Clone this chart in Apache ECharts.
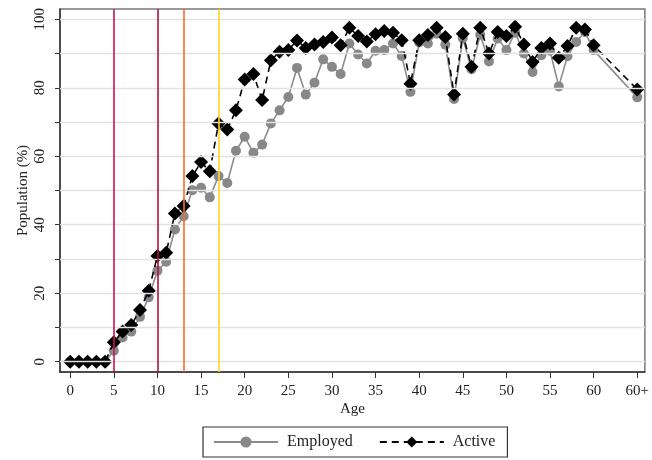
<!DOCTYPE html>
<html>
<head>
<meta charset="utf-8">
<script src="https://cdn.jsdelivr.net/npm/echarts@6/dist/echarts.min.js"></script>
<style>
html,body{margin:0;padding:0;background:#fff;}
#chart{width:652px;height:460px;}
</style>
</head>
<body>
<div id="chart"></div>
<script>
const ages = [0,1,2,3,4,5,6,7,8,9,10,11,12,13,14,15,16,17,18,19,20,21,22,23,24,25,26,27,28,29,30,31,32,33,34,35,36,37,38,39,40,41,42,43,44,45,46,47,48,49,50,51,52,53,54,55,56,57,58,59,60,65];
const employed = [0,0,0,0,0,3.2,7.1,8.8,13.1,18.8,26.6,29.2,38.6,42.5,50.1,50.8,48.0,54.2,52.2,61.6,65.7,61.0,63.4,69.6,73.4,77.3,85.8,78.0,81.5,88.3,86.1,84.0,92.9,89.7,87.1,90.8,91.0,92.9,89.3,78.8,93.2,92.9,95.8,92.6,76.7,94.5,85.4,95.5,87.7,94.4,91.0,96.1,90.0,84.6,89.5,90.8,80.4,89.2,93.4,96.3,91.0,77.2];
const active = [0,0,0,0,0,5.7,8.8,10.7,15.1,20.7,30.9,31.8,43.3,45.5,54.2,58.3,55.6,69.6,67.8,73.4,82.4,84.0,76.4,88.0,90.5,91.0,93.8,91.6,92.6,93.4,94.7,92.4,97.5,95.1,93.5,95.6,96.6,96.1,93.9,81.2,93.9,95.4,97.5,94.8,78.0,95.8,86.1,97.5,90.0,96.3,95.1,97.8,92.6,87.5,91.6,92.9,88.8,92.2,97.5,97.0,92.4,79.5];
const xTicks = [0,5,10,15,20,25,30,35,40,45,50,55,60,65];
const xTickLabels = ['0','5','10','15','20','25','30','35','40','45','50','55','60','60+'];
const yLabelValues = [0,20,40,60,80,100];
const yTickValues = [0,10,20,30,40,50,60,70,80,90,100];
const refAges = [5,10,13,17];
const refColors = ['#c8154a','#b8103e','#ff6a2c','#ffd424'];

const font = 'Liberation Serif';
const chart = echarts.init(document.getElementById('chart'));
const pair = (arr) => ages.map((a,i)=>[a, arr[i]]);

chart.setOption({
  animation:false,
  textStyle:{fontFamily:font},
  grid:{left:60,right:4,top:9,bottom:88,show:true,borderColor:'#7a7a7a',borderWidth:1.5,backgroundColor:'#fff'},
  xAxis:{
    type:'value', min:-1.17, max:65.87,
    name:'Age', nameLocation:'middle', nameGap:30, nameMoveOverlap:false,
    nameTextStyle:{fontFamily:font,fontSize:15,color:'#222'},
    axisLine:{show:true,onZero:false,lineStyle:{color:'#333',width:1.5}},
    axisTick:{show:true,length:6,customValues:xTicks,lineStyle:{color:'#333'}},
    axisLabel:{customValues:xTicks,fontFamily:font,fontSize:15,color:'#222',margin:12,
      formatter:(v)=>{const i=xTicks.indexOf(v);return i>=0?xTickLabels[i]:'';}},
    splitLine:{show:false}
  },
  yAxis:{
    type:'value', min:-3, max:103,
    name:'Population (%)', nameLocation:'middle', nameGap:29, nameMoveOverlap:false,
    nameTextStyle:{fontFamily:font,fontSize:15,color:'#222'},
    axisLine:{show:true,onZero:false,lineStyle:{color:'#333',width:1.5}},
    axisTick:{show:true,length:5,customValues:yTickValues,lineStyle:{color:'#333'}},
    axisLabel:{customValues:yLabelValues,rotate:90,fontFamily:font,fontSize:15,color:'#222',margin:12},
    splitLine:{show:false}
  },
  legend:{
    left:203, top:427, width:300,
    padding:[7,12,7,10], itemGap:26, itemWidth:64, itemHeight:14,
    borderColor:'#333', borderWidth:1.2,
    textStyle:{fontFamily:font,fontSize:16,color:'#222',padding:[0,0,0,4]},
    data:['Employed','Active']
  },
  series:[
    {
      name:'grid', type:'line', data:[], silent:true,
      markLine:{silent:true,symbol:'none',label:{show:false},animation:false,
        lineStyle:{color:'#e4e4e4',width:1.2,type:'solid'},
        data:yTickValues.map(v=>({yAxis:v,lineStyle:{color:'#e2e2e2',width:1.3,type:'solid'}}))}
    },
    {
      name:'refs', type:'line', data:[], silent:true,
      markLine:{silent:true,symbol:'none',label:{show:false},animation:false,
        data:refAges.map((a,i)=>({xAxis:a,lineStyle:{color:refColors[i],width:1.6,type:'solid'}}))}
    },
    {
      name:'Employed', type:'line', data:pair(employed),
      symbol:'circle', symbolSize:10, showSymbol:true,
      itemStyle:{color:'#888888'},
      lineStyle:{color:'#8c8c8c',width:1.6},
      z:3
    },
    {
      name:'Active', type:'line', data:pair(active),
      symbol:'diamond', symbolSize:14, showSymbol:true,
      itemStyle:{color:'#000'},
      lineStyle:{color:'#000',width:1.6,type:[7,5]},
      z:4
    }
  ]
});
</script>
</body>
</html>
